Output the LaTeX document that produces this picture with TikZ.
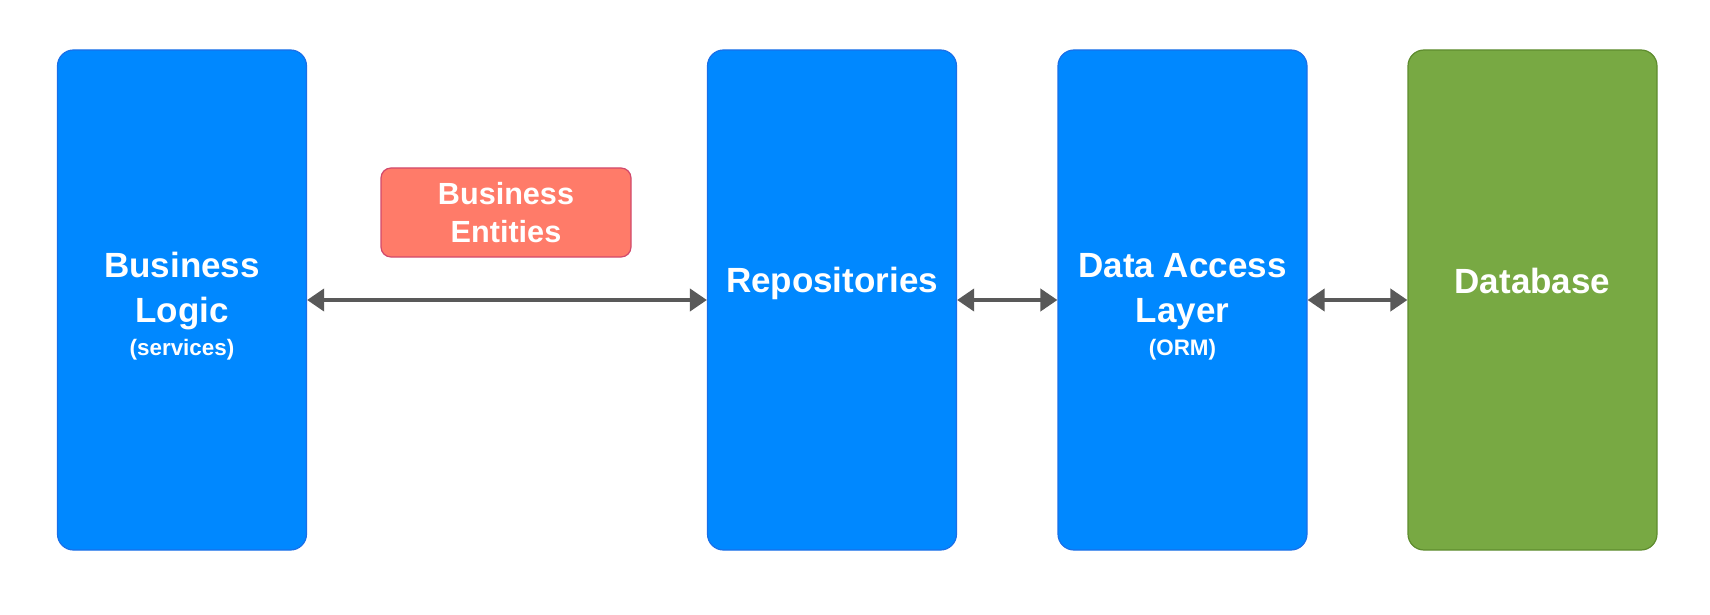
\documentclass[tikz,border=0pt]{standalone}
\usepackage{fontspec}
\setmainfont{Liberation Sans}
\usetikzlibrary{arrows.meta}

\definecolor{layerblue}{HTML}{0088FF}
\definecolor{layeredge}{HTML}{1A6FE8}
\definecolor{dbgreen}{HTML}{78A943}
\definecolor{dbedge}{HTML}{5E8C2E}
\definecolor{entityred}{HTML}{FF7B69}
\definecolor{entityedge}{HTML}{D2496C}
\definecolor{linkgray}{HTML}{595959}

\newcommand\subtxt[1]{{\fontsize{11.2}{13}\selectfont #1}}

\tikzset{
  layer/.style={draw=layeredge, fill=layerblue, line width=0.6pt, rounded corners=8pt,
    minimum width=124.5pt, minimum height=250pt, inner sep=0pt},
  dbbox/.style={layer, draw=dbedge, fill=dbgreen},
  entity/.style={draw=entityedge, fill=entityred, line width=0.6pt, rounded corners=5pt,
    minimum width=125pt, minimum height=44.5pt, inner sep=0pt, text=white, align=center,
    font=\bfseries\fontsize{15.3}{19.2}\selectfont},
  title/.style={text=white, align=center, inner sep=0pt,
    font=\bfseries\fontsize{17.5}{22.5}\selectfont},
  link/.style={draw=linkgray, line width=2pt,
    {Triangle[length=8.5pt,width=11pt]}-{Triangle[length=8.5pt,width=11pt]}}
}

\begin{document}
\begin{tikzpicture}[x=0.5pt,y=-0.5pt]
  \useasboundingbox (0,0) rectangle (1710,615);

  % layers
  \foreach \name/\x in {logic/182, repo/832, dal/1182.5} {
    \node[layer] (\name) at (\x,300) {};
  }
  \node[dbbox] (db) at (1532.5,300) {};
  \node[entity] (entities) at (506,212.5) {Business\\Entities};

  % labels
  \node[title] (logictext) at (182,306.5) {Business\\Logic\\[-6pt]\subtxt{(services)}};
  \node[title] (repotext) at (832,283) {Repositories};
  \node[title] (daltext) at (1182.5,307) {Data Access\\Layer\\[-6pt]\subtxt{(ORM)}};
  \node[title] (dbtext) at (1532.5,280.5) {Database};

  % links
  \foreach \from/\to in {logic/repo, repo/dal, dal/db} {
    \draw[link] (\from) -- (\to);
  }
\end{tikzpicture}
\end{document}
